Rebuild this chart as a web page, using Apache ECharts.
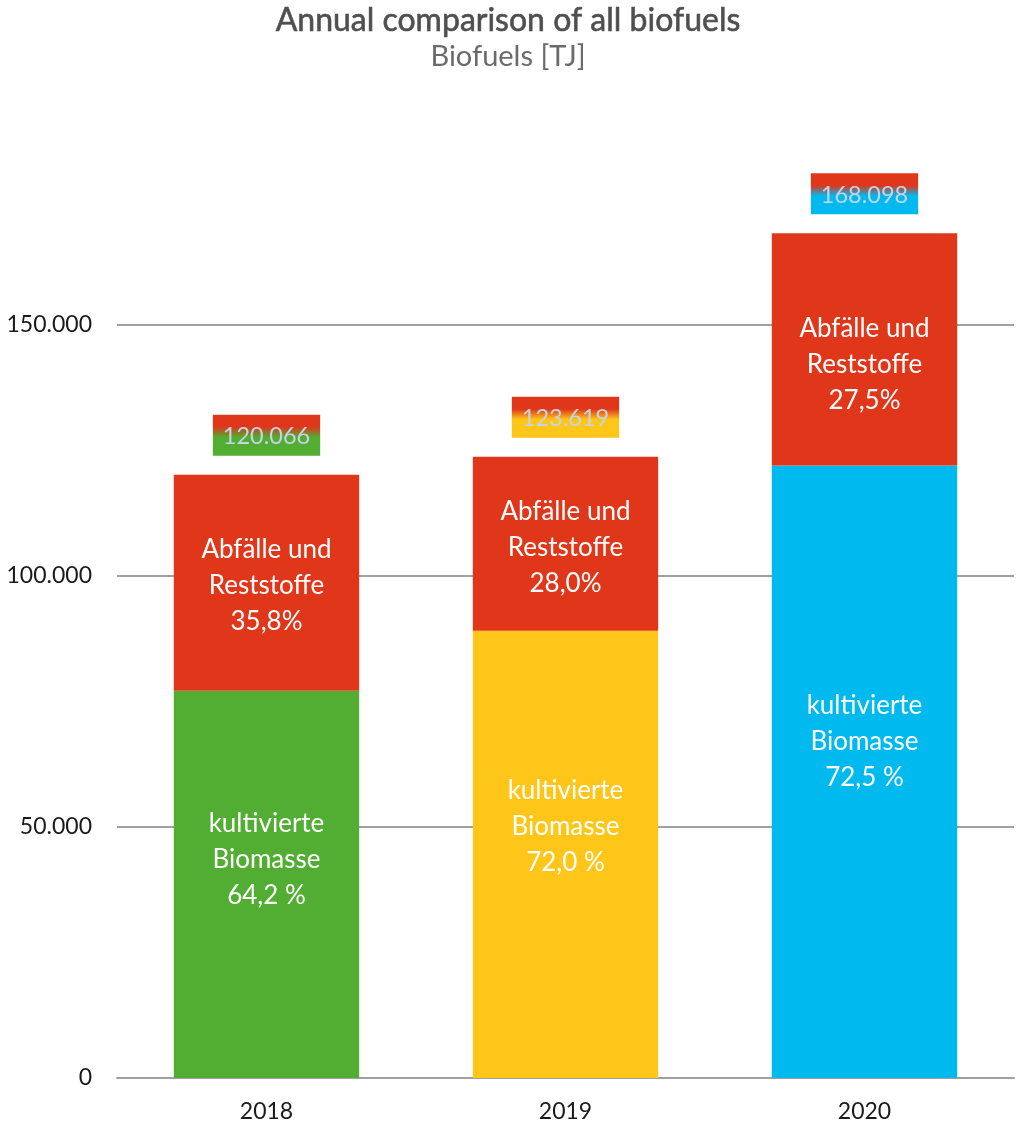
<!DOCTYPE html>
<html><head><meta charset="utf-8">
<script src="https://cdn.jsdelivr.net/npm/echarts@6/dist/echarts.min.js"></script>
<style>html,body{margin:0;padding:0;background:#fff}#c{width:1016px;height:1129px}</style>
</head><body><div id="c"></div>
<script>
const years = ['2018', '2019', '2020'];
const cultivated = [77082, 89006, 121871];
const waste = [42984, 34613, 46227];
const totals = [120066, 123619, 168098];
const cultivatedPct = ['64,2 %', '72,0 %', '72,5 %'];
const wastePct = ['35,8%', '28,0%', '27,5%'];
const yTicks = [0, 50000, 100000, 150000];

const RED = '#e0361a';
const barColors = ['#52ad33', '#fec619', '#00b9ef'];
const FONT = 'Lato';

function fmt(v) { return String(v).replace(/\B(?=(\d{3})+(?!\d))/g, '.'); }

const chart = echarts.init(document.getElementById('c'));
chart.setOption({
  animation: false,
  textStyle: { fontFamily: FONT },
  title: {
    text: 'Annual comparison of all biofuels',
    subtext: 'Biofuels [TJ]',
    left: 'center', top: 0, itemGap: 5,
    textStyle: { fontFamily: FONT, fontSize: 32, fontWeight: 'normal', color: '#4f4f4f', textBorderColor: '#4f4f4f', textBorderWidth: 0.6 },
    subtextStyle: { fontFamily: FONT, fontSize: 29, color: '#6b6b6b' }
  },
  grid: { left: 117, right: 2, top: 73, bottom: 51 },
  xAxis: {
    type: 'category', data: years,
    axisLine: { lineStyle: { color: '#a0a0a0', width: 2 } },
    axisTick: { show: false },
    axisLabel: { fontFamily: FONT, fontSize: 23, color: '#1a1a1a', margin: 22 }
  },
  yAxis: {
    type: 'value', min: 0, max: 200000, interval: 50000,
    axisLine: { show: false }, axisTick: { show: false },
    splitLine: { lineStyle: { color: '#a0a0a0', width: 2 }, showMaxLine: false },
    axisLabel: {
      fontFamily: FONT, fontSize: 23, color: '#1a1a1a', margin: 25,
      formatter: v => yTicks.includes(v) ? fmt(v) : ''
    }
  },
  series: [
    {
      type: 'bar', stack: 'a', barWidth: '62%',
      data: cultivated.map((v, i) => ({
        value: v,
        itemStyle: { color: barColors[i] },
        label: { offset: [0, [-25, -28, -30][i]] }
      })),
      label: {
        show: true, position: 'inside', color: '#fff', fontSize: 26, lineHeight: 36, fontFamily: FONT,
        formatter: p => 'kultivierte\nBiomasse\n' + cultivatedPct[p.dataIndex]
      }
    },
    {
      type: 'bar', stack: 'a', barWidth: '62%',
      itemStyle: { color: RED },
      data: waste.map((v, i) => ({ value: v, label: { offset: [0, [3, 4, 15][i]] } })),
      label: {
        show: true, position: 'inside', color: '#fff', fontSize: 26, lineHeight: 36, fontFamily: FONT,
        formatter: p => 'Abfälle und\nReststoffe\n' + wastePct[p.dataIndex]
      }
    },
    {
      type: 'line', symbolSize: 0, showSymbol: true, lineStyle: { width: 0, opacity: 0 },
      silent: true, z: 5,
      data: totals.map((v, i) => ({
        value: v,
        label: {
          backgroundColor: new echarts.graphic.LinearGradient(0, 0, 0, 1, [
            { offset: 0, color: RED }, { offset: 0.3, color: RED },
            { offset: 0.55, color: barColors[i] }, { offset: 1, color: barColors[i] }
          ])
        }
      })),
      label: {
        show: true, position: 'top', distance: 19,
        fontFamily: FONT, fontSize: 23.5, color: '#c4d4e6',
        padding: [10, 10, 7, 10], lineHeight: 24,
        formatter: p => fmt(p.value)
      }
    }
  ]
});
</script></body></html>
